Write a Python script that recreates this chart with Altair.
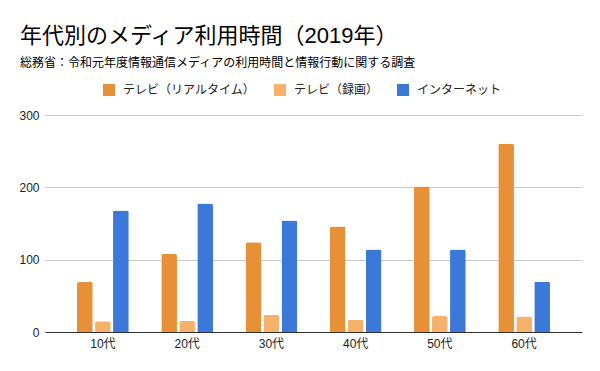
import altair as alt
import pandas as pd

ages = ["10代", "20代", "30代", "40代", "50代", "60代"]
series = ["テレビ（リアルタイム）", "テレビ（録画）", "インターネット"]
tv_live = [69.0, 108.0, 124.0, 146.0, 201.0, 260.3]
tv_rec = [14.7, 15.3, 23.5, 16.9, 22.0, 21.6]
internet = [167.9, 177.7, 154.1, 114.1, 114.0, 69.4]
colors = ["#e69138", "#f6b26b", "#3c78d8"]
y_ticks = [0, 100, 200, 300]

rows = []
for i, a in enumerate(ages):
    for s, vals in zip(series, [tv_live, tv_rec, internet]):
        rows.append({"age": a, "series": s, "value": vals[i]})
df = pd.DataFrame(rows)

FONT = "Liberation Sans, Noto Sans CJK JP"

chart = (
    alt.Chart(df)
    .mark_bar(cornerRadiusTopLeft=2, cornerRadiusTopRight=2)
    .encode(
        x=alt.X(
            "age:N",
            sort=ages,
            scale=alt.Scale(paddingInner=0.386, paddingOuter=0.38),
            axis=alt.Axis(
                title=None,
                labelAngle=0,
                ticks=False,
                domainColor="#333333",
                labelPadding=6,
                labelFontSize=12,
                labelColor="#222222",
                labelFont=FONT,
            ),
        ),
        xOffset=alt.XOffset(
            "series:N",
            sort=series,
            scale=alt.Scale(paddingInner=0.128, paddingOuter=0),
        ),
        y=alt.Y(
            "value:Q",
            scale=alt.Scale(domain=[0, 300], nice=False),
            axis=alt.Axis(
                title=None,
                values=y_ticks,
                ticks=False,
                domain=False,
                gridColor="#cccccc",
                labelPadding=6,
                labelFontSize=12,
                labelColor="#222222",
                labelFont=FONT,
            ),
        ),
        color=alt.Color(
            "series:N",
            sort=series,
            scale=alt.Scale(domain=series, range=colors),
            legend=alt.Legend(
                title=None,
                orient="none",
                direction="horizontal",
                legendX=58,
                legendY=-31,
                symbolType="square",
                symbolSize=144,
                symbolStrokeWidth=0,
                labelFontSize=12,
                labelFont=FONT,
                labelColor="#222222",
                labelOffset=8,
                columnPadding=18,
                padding=0,
            ),
        ),
    )
    .properties(
        width=537,
        height=217,
        autosize=alt.AutoSizeParams(type="none"),
        padding={"left": 37, "top": 107, "right": 10, "bottom": 30},
        title=alt.TitleParams(
            text="年代別のメディア利用時間（2019年）",
            subtitle="総務省：令和元年度情報通信メディアの利用時間と情報行動に関する調査",
            anchor="start",
            frame="group",
            dx=-25,
            offset=14,
            font=FONT,
            fontSize=22,
            fontWeight="normal",
            color="#000000",
            subtitleFont=FONT,
            subtitleFontSize=12,
            subtitleColor="#000000",
            subtitlePadding=10,
        ),
    )
    .configure_view(stroke=None)
)

chart.save("out.html", embed_options={"renderer": "svg", "actions": False})
